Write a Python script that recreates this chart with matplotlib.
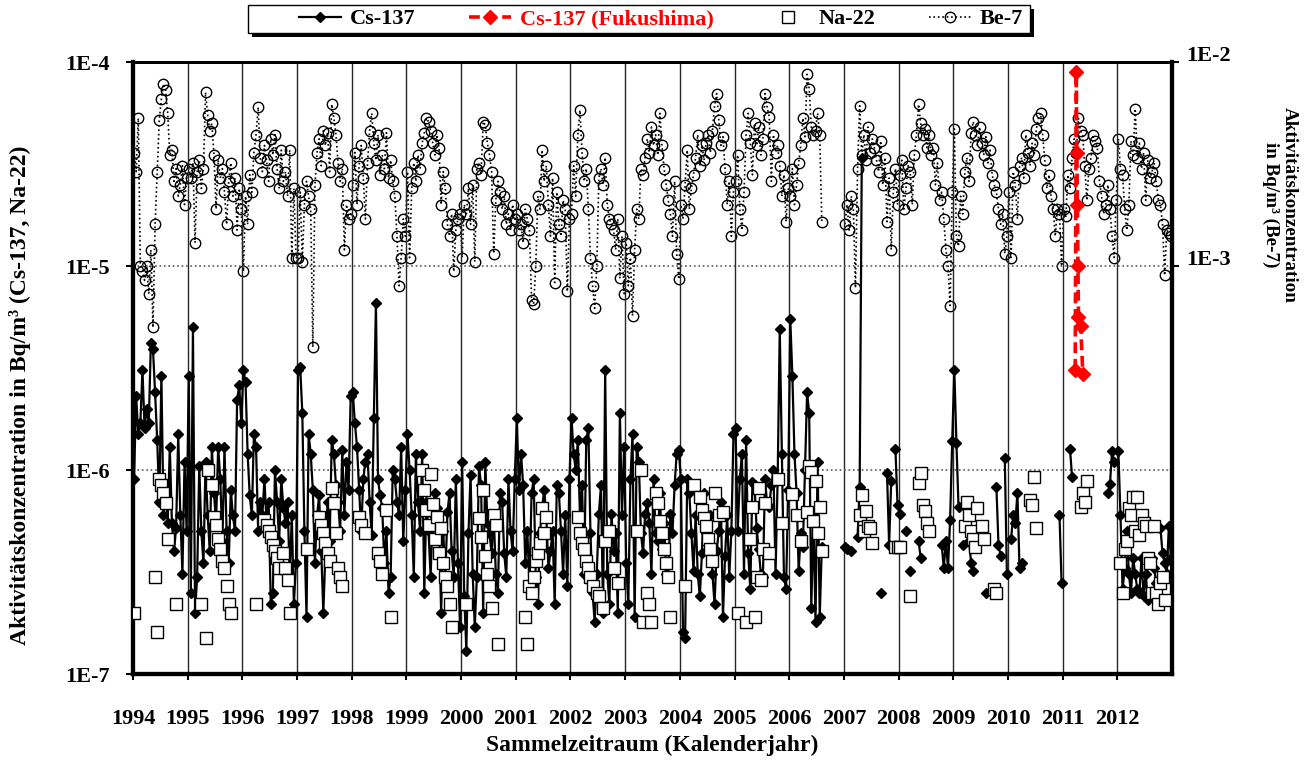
import numpy as np
import matplotlib
matplotlib.use('Agg')
import matplotlib.pyplot as plt
from matplotlib.lines import Line2D
from matplotlib.patches import Rectangle
from matplotlib.ticker import NullLocator
import matplotlib.transforms as mtransforms

n = np.nan
years = list(range(1994, 2013))

# half-monthly samples (26 per year)
# Be-7 in mBq/m3 (right axis)
be7 = [
    [3.6, 2.9, 5.3, 1.0, 0.95, 0.85, 1.0, 0.73, 1.2, 0.5, 1.6, 2.9, 5.2, 6.6, 7.8, 7.3, 5.6, 3.5, 3.7, 2.6, 3.0, 2.2, 2.5, 3.1, 2.0, 2.7],
    [3.0, 2.7, 3.2, 1.3, 2.9, 3.3, 2.4, 3.0, 7.1, 5.5, 4.6, 5.0, 3.5, 1.9, 3.3, 2.7, 3.0, 2.3, 1.6, 2.6, 3.2, 2.2, 2.7, 1.5, 2.4, 1.9],
    [0.94, 2.2, 1.6, 2.8, 2.3, 3.6, 4.4, 6.0, 3.4, 2.9, 3.9, 3.3, 2.6, 4.2, 3.5, 4.4, 3.0, 2.4, 3.7, 2.6, 2.9, 2.2, 3.7, 1.1, 2.4, 1.1],
    [1.1, 2.3, 1.05, 2.0, 2.6, 2.2, 1.9, 0.4, 2.5, 3.6, 4.2, 3.1, 4.6, 3.9, 4.5, 2.9, 6.2, 5.3, 4.4, 3.2, 2.6, 3.0, 1.2, 2.0, 1.7, 1.8],
    [2.5, 3.6, 2.0, 3.1, 3.9, 2.7, 1.7, 3.2, 4.6, 5.6, 4.0, 3.3, 4.4, 2.8, 3.5, 3.0, 4.5, 2.7, 3.3, 2.6, 2.2, 1.4, 0.8, 1.1, 1.7, 1.4],
    [2.9, 1.1, 2.4, 3.2, 2.6, 3.5, 3.0, 4.0, 4.5, 5.3, 5.1, 4.6, 4.0, 3.5, 4.4, 3.8, 2.0, 2.9, 2.4, 1.6, 1.4, 1.8, 0.94, 1.5, 1.7, 1.8],
    [1.1, 2.0, 1.8, 2.4, 1.6, 2.5, 1.05, 3.0, 3.2, 2.8, 5.1, 4.9, 4.0, 3.5, 2.9, 1.15, 2.1, 2.6, 2.3, 1.9, 2.2, 1.6, 1.8, 1.5, 2.0, 1.7],
    [1.8, 1.5, 1.6, 1.3, 1.9, 1.7, 1.5, 0.68, 0.65, 1.0, 2.2, 1.9, 3.7, 2.6, 3.1, 2.0, 1.4, 2.7, 0.83, 2.3, 1.6, 1.4, 2.1, 1.9, 0.75, 1.7],
    [1.8, 3.1, 2.2, 4.4, 5.8, 3.6, 2.6, 3.0, 1.9, 1.1, 0.8, 0.62, 1.0, 2.7, 3.0, 2.5, 3.4, 2.0, 1.7, 1.6, 1.5, 1.2, 1.7, 0.87, 1.4, 0.73],
    [1.3, 0.8, 1.1, 0.57, 1.2, 1.9, 1.7, 3.0, 2.8, 3.4, 4.2, 3.6, 4.8, 3.9, 4.4, 3.5, 5.6, 3.9, 3.0, 2.5, 2.1, 1.8, 1.4, 2.6, 1.15, 0.86],
    [2.0, 1.7, 2.5, 3.7, 1.9, 2.4, 2.8, 3.4, 4.4, 3.1, 3.9, 3.3, 4.0, 4.4, 3.6, 4.6, 6.1, 7.0, 5.2, 3.9, 4.3, 3.0, 2.0, 2.6, 1.4, 2.3],
    [2.6, 3.5, 1.9, 1.5, 2.3, 4.4, 5.6, 4.0, 2.8, 5.0, 3.9, 4.8, 3.5, 4.2, 7.0, 6.0, 5.4, 2.6, 4.4, 3.6, 3.9, 3.1, 2.2, 2.8, 1.65, 2.4],
    [2.2, 3.0, 2.0, 2.5, 3.2, 3.9, 5.3, 4.3, 8.7, 7.4, 4.8, 4.4, 4.6, 5.6, 4.4, 1.65, n, n, n, n, n, n, n, n, n, n],
    [1.6, 2.0, 1.5, 2.2, 1.9, 0.78, 3.0, 6.1, 3.5, 4.4, 3.3, 4.8, 3.6, 4.2, 3.8, 3.3, 2.9, 4.1, 2.5, 3.4, 1.65, 2.7, 1.2, 2.3, 3.0, 2.0],
    [2.8, 3.3, 1.9, 2.4, 3.1, 2.9, 2.0, 3.5, 4.4, 6.2, 5.0, 4.4, 4.7, 3.8, 4.4, 3.5, 3.8, 2.5, 3.2, 2.1, 2.3, 1.7, 1.2, 1.0, 0.64, 2.3],
    [4.7, 1.4, 1.25, 2.2, 1.8, 2.9, 3.4, 2.6, 4.5, 5.1, 4.4, 3.9, 4.8, 4.0, 3.5, 4.3, 3.2, 3.7, 2.8, 2.5, 2.3, 1.9, 1.6, 1.8, 1.15, 1.4],
    [2.3, 1.1, 2.9, 2.5, 1.7, 3.1, 3.4, 2.7, 4.4, 3.6, 3.1, 4.0, 3.5, 4.7, 5.3, 5.6, 4.4, 3.3, 2.4, 2.8, 2.2, 1.9, 1.4, 1.9, 1.8, 1.0],
    [1.9, 1.75, 2.8, 2.4, 3.4, 4.2, 3.6, 5.3, 4.6, 4.4, 3.1, 2.1, 3.0, 3.4, 4.4, 4.1, 3.8, 2.6, 2.2, 1.8, 2.0, 2.5, 1.9, 1.4, 1.1, 2.1],
    [4.2, 3.0, 2.8, 1.9, 1.5, 2.0, 4.1, 3.5, 5.9, 3.4, 4.0, 3.0, 3.6, 2.1, 3.3, 2.7, 2.9, 3.2, 2.6, 2.1, 2.0, 1.6, 0.9, 1.5, 1.45, 1.4],
]

# Cs-137 in uBq/m3 (left axis)
cs137 = [
    [0.9, 2.3, 1.5, 1.7, 3.1, 1.6, 2.0, 1.7, 4.2, 3.9, 2.4, 1.4, 0.7, 2.9, 0.6, 0.8, 0.55, 1.3, 0.55, 0.4, 0.52, 1.5, 0.6, 0.31, 1.1, 0.5],
    [2.9, 0.25, 5.0, 0.2, 0.3, 1.05, 0.5, 0.35, 1.1, 0.6, 0.4, 1.3, 0.77, 0.55, 1.3, 0.9, 0.45, 1.3, 0.5, 0.35, 0.8, 0.6, 0.5, 2.2, 2.6, 1.7],
    [3.1, 2.7, 1.2, 0.75, 0.6, 1.5, 1.3, 0.5, 0.7, 0.6, 0.9, 0.55, 0.7, 0.22, 0.25, 1.0, 0.7, 0.45, 0.9, 0.65, 0.55, 0.7, 0.3, 0.6, 0.22, 0.35],
    [3.1, 3.2, 1.9, 0.5, 0.19, 1.5, 1.2, 0.8, 0.35, 0.6, 0.75, 0.4, 0.2, 0.4, 0.7, 0.45, 1.4, 1.2, 0.84, 0.7, 0.5, 1.25, 0.6, 1.1, 0.8, 2.3],
    [2.4, 1.7, 1.3, 0.8, 0.5, 0.9, 1.1, 1.2, 0.7, 0.48, 1.8, 6.6, 0.9, 0.75, 0.65, 0.35, 0.5, 0.25, 0.3, 1.0, 0.9, 0.7, 0.6, 1.3, 0.45, 0.8],
    [1.5, 1.0, 0.6, 0.3, 1.2, 0.7, 0.5, 1.2, 0.25, 0.7, 0.5, 0.3, 0.6, 0.77, 0.65, 0.55, 0.2, 0.5, 0.3, 0.62, 0.77, 0.4, 0.3, 0.9, 0.35, 0.17],
    [1.1, 0.24, 0.13, 0.49, 0.95, 0.31, 0.17, 0.3, 1.05, 0.84, 0.2, 1.1, 0.55, 0.49, 0.39, 0.61, 0.31, 0.25, 0.77, 0.7, 0.39, 0.3, 0.9, 0.5, 0.4, 0.9],
    [1.8, 0.8, 1.2, 0.84, 0.35, 0.5, 0.27, 0.77, 0.9, 0.3, 0.22, 0.49, 0.65, 0.8, 0.6, 0.33, 0.4, 0.5, 0.22, 0.84, 0.77, 0.5, 0.31, 0.6, 0.27, 0.9],
    [1.8, 1.2, 1.0, 1.4, 0.6, 0.84, 0.31, 1.4, 1.6, 0.49, 0.25, 0.18, 0.31, 0.61, 0.84, 0.2, 3.1, 0.31, 0.22, 0.61, 0.4, 0.49, 0.2, 1.9, 0.6, 1.3],
    [0.35, 0.22, 0.9, 1.5, 0.19, 1.3, 1.1, 0.49, 0.39, 0.61, 0.69, 0.55, 0.31, 0.9, 0.49, 0.45, 0.77, 0.41, 0.55, 0.31, 0.3, 0.61, 0.49, 0.84, 1.2, 1.25],
    [0.9, 0.16, 0.15, 0.9, 0.77, 0.49, 0.32, 0.6, 0.31, 0.24, 0.39, 0.77, 0.49, 0.45, 0.6, 0.31, 0.22, 0.4, 0.5, 0.7, 0.19, 0.38, 0.6, 0.3, 0.5, 1.5],
    [1.6, 0.5, 0.9, 1.2, 0.31, 1.4, 0.39, 0.26, 0.87, 0.84, 0.52, 0.41, 0.31, 0.3, 0.9, 0.68, 0.66, 0.84, 1.0, 0.31, 0.9, 4.9, 1.2, 0.3, 0.26, 0.8],
    [5.5, 2.9, 1.2, 0.77, 0.32, 0.49, 0.42, 1.0, 2.4, 1.9, 0.21, 0.6, 0.18, 1.1, 0.19, 0.42, n, n, n, n, n, n, n, n, n, n],
    [0.42, 0.41, n, 0.40, n, n, 0.47, 0.83, 34.0, n, n, n, n, n, n, n, n, 0.25, n, n, 0.97, 0.43, 0.88, n, 1.27, 0.67],
    [0.61, n, n, 0.5, n, 0.32, n, n, n, 0.45, 0.37, n, n, n, n, n, n, n, n, n, 0.43, 0.33, 0.45, 0.33, 0.57, 1.39],
    [3.1, 1.36, 0.66, n, 0.43, n, n, 0.45, 0.35, 0.32, n, n, n, n, n, 0.25, n, n, n, n, 0.83, 0.43, 0.38, n, 1.14, 0.31],
    [n, 0.46, 0.6, 0.55, 0.77, 0.33, 0.35, n, n, n, n, n, n, n, n, n, n, n, n, n, n, n, n, n, 0.6, 0.28],
    [n, n, n, 1.27, 0.92, n, n, n, n, n, n, n, n, n, n, n, n, n, n, n, n, 0.77, 0.85, 1.24, 1.1, n],
    [1.24, 0.6, 0.26, 0.33, 0.5, 0.31, 0.25, 0.37, 0.31, 0.26, 0.25, 0.37, 0.24, 0.31, 0.23, n, 0.37, 0.33, 0.28, n, 0.52, 0.39, 0.35, 0.31, 0.53, 0.37],
]

# Na-22 in uBq/m3 (left axis)
na22 = [
    [0.2, n, n, n, n, n, n, n, n, n, 0.3, 0.16, 0.9, 0.84, 0.77, 0.69, 0.46, n, n, n, 0.22, n, n, n, n, n],
    [n, n, n, n, n, n, 0.22, n, 0.15, 1.0, n, 0.84, 0.59, 0.54, 0.46, 0.41, 0.36, 0.33, 0.27, 0.22, 0.2, n, n, n, n, n],
    [n, n, n, n, n, n, 0.22, n, n, n, 0.57, 0.54, 0.5, 0.47, 0.43, 0.4, 0.37, 0.33, n, 0.39, 0.33, 0.29, 0.2, n, n, n],
    [n, n, n, n, 0.41, n, n, n, n, n, 0.59, 0.54, 0.49, 0.44, 0.39, 0.36, 0.82, 0.69, 0.49, 0.33, 0.3, 0.27, n, n, n, n],
    [n, n, n, 0.59, 0.54, n, 0.49, n, n, n, n, n, 0.39, 0.36, 0.31, n, 0.64, n, 0.19, n, n, n, n, n, n, n],
    [n, n, n, n, n, n, n, 1.0, 0.8, 0.64, 0.54, 0.96, 0.68, 0.46, 0.59, 0.39, 0.52, 0.35, 0.3, 0.27, 0.22, 0.17, n, n, n, n],
    [n, n, 0.22, n, n, n, n, n, 0.58, 0.47, 0.8, 0.38, 0.31, 0.27, 0.21, 0.6, 0.54, 0.14, n, n, n, n, n, n, n, n],
    [n, n, n, n, 0.19, 0.14, 0.27, 0.25, 0.3, 0.36, 0.39, 0.44, 0.65, 0.49, 0.59, n, n, n, n, n, n, n, n, n, n, n],
    [n, n, n, 0.59, 0.49, 0.44, 0.41, 0.36, 0.33, 0.3, 0.27, n, 0.25, 0.24, n, 0.21, 0.45, n, 0.5, n, 0.33, n, 0.28, n, n, n],
    [n, n, n, n, n, 0.5, n, 1.0, 0.18, n, 0.25, 0.22, 0.18, n, 0.77, 0.69, 0.56, 0.49, 0.41, 0.35, 0.3, 0.19, n, n, n, n],
    [n, n, 0.27, n, n, n, 0.84, n, n, 0.74, 0.64, 0.58, 0.53, 0.46, 0.41, 0.36, 0.77, n, 0.6, n, 0.62, n, n, n, n, n],
    [n, 0.2, n, n, n, 0.18, n, 0.46, 0.66, 0.19, 0.3, 0.82, 0.29, 0.41, 0.69, n, 0.39, n, n, n, 0.9, n, 0.55, n, n, n],
    [n, 0.76, n, 0.6, n, 0.45, n, n, 0.62, 1.05, 0.98, 0.56, 0.88, 0.49, 0.66, 0.4, n, n, n, n, n, n, n, n, n, n],
    [n, n, n, n, n, n, n, 0.6, 0.75, 0.5, 0.63, 0.53, 0.52, 0.44, n, n, n, n, n, n, n, n, n, n, 0.42, 0.42],
    [0.42, n, n, n, n, 0.24, n, n, n, 0.86, 0.97, 0.67, 0.63, 0.55, 0.5, n, n, n, n, n, n, n, n, n, n, n],
    [n, n, n, n, n, 0.53, 0.7, 0.6, 0.5, 0.46, 0.42, 0.65, n, 0.53, 0.46, n, n, n, n, 0.26, 0.25, n, n, n, n, n],
    [n, n, n, n, n, n, n, n, n, n, 0.71, 0.67, 0.92, 0.52, n, n, n, n, n, n, n, n, n, n, n, n],
    [n, n, n, n, n, n, n, n, 0.66, 0.77, 0.7, 0.88, n, n, n, n, n, n, n, n, n, n, n, n, n, n],
    [n, 0.35, 0.25, 0.41, 0.45, 0.65, 0.6, 0.74, 0.5, 0.74, 0.48, 0.6, 0.55, 0.53, 0.37, 0.35, 0.25, 0.53, 0.25, 0.22, 0.28, 0.3, 0.23, n, n, n],
]

# Fukushima weeks, Cs-137 in uBq/m3
fuku_dates = [2011.23, 2011.25, 2011.26, 2011.27, 2011.28, 2011.29, 2011.33, 2011.37]
fuku_cs137 = [3.1, 89.0, 36.0, 20.0, 10.0, 5.6, 5.1, 2.95]


def series(rows, scale):
    t, v = [], []
    for yr, row in zip(years, rows):
        k = len(row)
        for i, val in enumerate(row):
            t.append(yr + (i + 0.5) / k)
            v.append(val * scale)
    return np.array(t), np.array(v)


t_be, v_be = series(be7, 1e-3)
t_cs, v_cs = series(cs137, 1e-6)
t_na, v_na = series(na22, 1e-6)
v_fu = np.array(fuku_cs137) * 1e-6

plt.rcParams['font.family'] = ['Liberation Serif', 'DejaVu Serif']
plt.rcParams['font.weight'] = 'bold'

fig = plt.figure(figsize=(13.12, 7.6), dpi=100)
ax = fig.add_axes([133/1312, 86/760, 1039/1312, 612/760])
ax2 = ax.twinx()
ax.set_zorder(ax2.get_zorder() + 1)
ax.patch.set_visible(False)

# Be-7 on right axis
ax2.plot(t_be, v_be, ls=':', lw=1.2, color='black', marker='o', ms=7.5,
         mfc='none', mec='black', mew=1.0)

# Cs-137 / Na-22 / Fukushima on left axis
for yr in years[1:]:
    ax.axvline(yr, color='0.15', lw=1.0, zorder=0.5)
for yv in [1e-5, 1e-6]:
    ax.axhline(yv, color='0.35', ls=':', lw=1.2, zorder=0.5)

ax.plot(t_cs, v_cs, '-', color='black', lw=1.6, marker='D', ms=5.5, zorder=2)
ax.plot(t_na, v_na, ls='none', marker='s', ms=8, mfc='white', mec='black', mew=1.0, zorder=3)
ax.plot(fuku_dates, v_fu, ls='--', dashes=(3, 1.6), color='red', lw=2.6, marker='D', ms=7.5, zorder=4)

ax.set_xlim(1994, 2013)
ax.set_yscale('log')
ax.set_ylim(1e-7, 1e-4)
ax.set_yticks([1e-7, 1e-6, 1e-5, 1e-4])
ax.set_yticklabels(['1E-7', '1E-6', '1E-5', '1E-4'])
ax.yaxis.set_minor_locator(NullLocator())
ax.set_xticks(years)
ax.set_xticklabels([str(y) for y in years])

ax2.set_yscale('log')
ax2.set_ylim(1e-5, 1e-2)
ax2.set_yticks([1e-3, 1e-2])
ax2.set_yticklabels(['1E-3', '1E-2'])
ax2.yaxis.set_minor_locator(NullLocator())

ax.tick_params(axis='x', direction='out', length=4, width=1.5, pad=21, labelsize=16)
ax.tick_params(axis='y', direction='out', length=5, width=1.5, pad=12, labelsize=16)
ax2.tick_params(axis='y', direction='out', length=5, width=1.5, pad=5, labelsize=16)

up = mtransforms.ScaledTranslation(0, 6/72, fig.dpi_scale_trans)
for lab in ax2.get_yticklabels():
    lab.set_transform(lab.get_transform() + up)

for a in (ax, ax2):
    a.spines['left'].set_linewidth(3)
    a.spines['right'].set_linewidth(3)
    a.spines['top'].set_linewidth(2)
    a.spines['bottom'].set_linewidth(3)

fig.text(20/1312, 1 - 395/760, 'Aktivitätskonzentration in Bq/m³ (Cs-137, Na-22)',
         rotation=90, ha='center', va='center', fontsize=17, fontweight='bold')
fig.text(1280/1312, 1 - 205/760, 'Aktivitätskonzentration\nin Bq/m³ (Be-7)',
         rotation=270, ha='center', va='center', multialignment='center',
         fontsize=13.8, fontweight='bold', linespacing=1.15)
fig.text(652/1312, 1 - 745/760, 'Sammelzeitraum (Kalenderjahr)',
         ha='center', va='center', fontsize=17, fontweight='bold')

# legend box with drop shadow
fig.add_artist(Rectangle((252/1312, 1 - 37/760), 782/1312, 28/760, transform=fig.transFigure,
                         facecolor='black', edgecolor='none', zorder=1))
fig.add_artist(Rectangle((248/1312, 1 - 33/760), 782/1312, 28/760, transform=fig.transFigure,
                         facecolor='white', edgecolor='black', lw=1.0, zorder=2))

handles = [
    Line2D([], [], color='black', lw=1.6, marker='D', ms=5.5),
    Line2D([], [], color='red', ls='--', dashes=(3, 1.6), lw=2.6, marker='D', ms=7.5),
    Line2D([], [], ls='none', marker='s', ms=8, mfc='white', mec='black'),
    Line2D([], [], color='black', ls=':', lw=1.2, marker='o', ms=7.5, mfc='none'),
]
labels = ['Cs-137', 'Cs-137 (Fukushima)', 'Na-22', 'Be-7']
leg = fig.legend(handles, labels, loc='center', bbox_to_anchor=(661/1312, 1 - 19/760),
                 ncol=4, frameon=False, fontsize=16, handlelength=1.9,
                 handletextpad=0.4, columnspacing=2.4, borderpad=0.1)
leg.set_zorder(3)
leg.get_texts()[1].set_color('red')

fig.savefig('out.png', dpi=100)
